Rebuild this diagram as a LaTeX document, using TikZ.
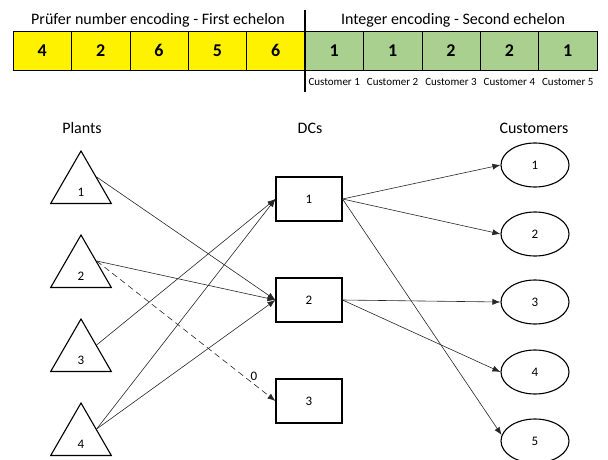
\documentclass[tikz,border=0pt]{standalone}
\usepackage{fontspec}
\setmainfont{Carlito}
\usepackage{tikz}
\usetikzlibrary{positioning,shapes.geometric,arrows.meta}

\definecolor{genegreen}{RGB}{169,208,142}
\tikzset{
  cell/.style={draw, minimum width=58.4pt, minimum height=39pt, inner sep=0pt, font=\fontsize{18}{18}\selectfont\bfseries},
  plant/.style={draw, line width=1.1pt, regular polygon, regular polygon sides=3, minimum size=70pt, inner sep=0pt},
  dc/.style={draw, line width=1.1pt, minimum width=66pt, minimum height=44pt, font=\fontsize{13}{13}\selectfont},
  cust/.style={draw, line width=1.1pt, ellipse, minimum width=68pt, minimum height=44pt, inner sep=0pt, font=\fontsize{13}{13}\selectfont},
  head/.style={font=\fontsize{16}{16}\selectfont},
  flow/.style={draw=black!85, line width=0.6pt, -{Latex[length=8pt,width=6pt]}}
}

\begin{document}
\begin{tikzpicture}[x=1pt, y=-1pt]
    \useasboundingbox (0,0) rectangle (608,460);

    % chromosome
    \foreach \v [count=\i] in {4,2,6,5,6}
      \node[cell, fill=yellow] (y\i) at (13+58.4*\i-29.2, 50.5) {\v};
    \foreach \v [count=\i] in {1,1,2,2,1}
      \node[cell, fill=genegreen] (g\i) at (305+58.4*\i-29.2, 50.5) {\v};
    \foreach \i in {1,...,5}
      \node[font=\fontsize{11}{11}\selectfont, below=5pt of g\i.south] (cl\i) {Customer \i};
    \node[head] (t1) at (158,20) {Prüfer number encoding - First echelon};
    \node[head] (t2) at (453,20) {Integer encoding - Second echelon};
    \coordinate (s1) at (305,10);
    \coordinate (s2) at (305,92);
    \draw[line width=1.6pt] (s1) -- (s2);

    % network
    \node[head] (hp) at (82,128) {Plants};
    \node[head] (hd) at (310,128) {DCs};
    \node[head] (hc) at (534,128) {Customers};

    \foreach \i/\y in {1/186,2/270,3/354,4/438}
      \node[plant, label={[yshift=-6pt, font=\fontsize{13}{13}\selectfont]center:\i}] (p\i) at (81,\y) {};
    \foreach \i/\y in {1/199,2/300,3/401}
      \node[dc] (d\i) at (309,\y) {\i};
    \foreach \i/\y in {1/165,2/234,3/302,4/372,5/441}
      \node[cust] (c\i) at (535,\y) {\i};

    \draw[flow] (p1.side 3) -- (d2.west);
    \draw[flow] (p2.side 3) -- (d2.west);
    \draw[flow, dash pattern=on 6pt off 4pt] (p2.side 3) -- (d3.west) node[pos=0.88, above, font=\fontsize{13}{13}\selectfont] {0};
    \draw[flow] (p3.side 3) -- (d1.west);
    \draw[flow] (p4.side 3) -- (d1.west);
    \draw[flow] (p4.side 3) -- (d2.west);

    \draw[flow] (d1.east) -- (c1.west);
    \draw[flow] (d1.east) -- (c2.west);
    \draw[flow] (d1.east) -- (c5.170);
    \draw[flow] (d2.east) -- (c3.west);
    \draw[flow] (d2.east) -- (c4.west);
\end{tikzpicture}
\end{document}
